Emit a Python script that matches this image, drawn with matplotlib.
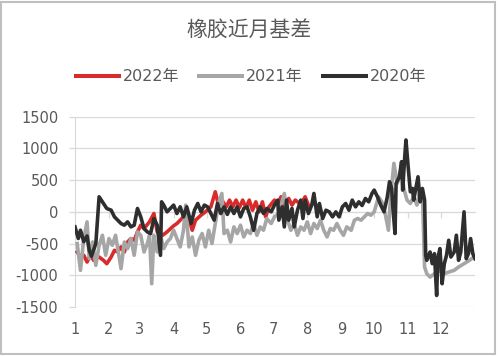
import matplotlib
matplotlib.use("Agg")
import matplotlib.pyplot as plt
from matplotlib.lines import Line2D
from matplotlib.patches import Rectangle

plt.rcParams['font.family'] = ['DejaVu Sans', 'Noto Sans CJK SC']
plt.rcParams['axes.unicode_minus'] = False

# 数据: 日序号(1月1日=0) 与 基差
day_2022 = [2, 5, 8, 11, 14, 17, 22, 26, 29, 33, 36, 39, 42, 45, 48, 51, 54, 57, 60, 63, 68,
            72, 75, 80, 84, 90, 93, 96, 99, 102, 107, 110, 115, 119, 124, 128, 131, 134, 138,
            141, 144, 147, 150, 153, 156, 159, 162, 165, 168, 171, 174, 177, 182, 185, 188,
            191, 195, 198, 201, 206, 210, 213]
val_2022 = [-633, -712, -685, -791, -685, -764, -712, -764, -817, -712, -606, -633, -553, -633,
            -475, -421, -448, -316, -210, -263, -158, -26, -316, -369, -316, -220, -184, -131,
            -79, 0, -290, -131, -53, 0, 79, 316, 106, 185, 79, 185, 79, 185, 66, 185, 66, 185,
            26, 158, 0, 158, -79, 79, 185, 120, 237, 100, 211, 106, 185, 120, 237, 106]

day_2021 = [2, 5, 8, 11, 13, 16, 19, 22, 25, 28, 31, 34, 37, 42, 45, 48, 51, 54, 57, 60, 63,
            66, 68, 70, 72, 75, 78, 81, 84, 87, 90, 93, 96, 99, 101, 104, 107, 110, 113, 116,
            119, 122, 125, 128, 131, 134, 136, 139, 142, 145, 148, 151, 154, 157, 160, 163,
            166, 169, 172, 175, 179, 182, 186, 191, 194, 197, 200, 203, 206, 209, 212, 215,
            218, 221, 224, 227, 230, 233, 236, 239, 242, 245, 248, 252, 255, 258, 261, 264,
            267, 270, 273, 277, 280, 283, 286, 288, 291, 294, 296, 298, 300, 303, 306, 309,
            312, 315, 317, 319, 321, 324, 328, 332, 337, 341, 346, 350, 355, 360, 364]
val_2021 = [-500, -922, -421, -158, -738, -475, -843, -527, -369, -685, -421, -527, -369, -896,
            -475, -580, -421, -685, -316, -369, -633, -500, -369, -1133, -369, -633, -369, -580,
            -475, -421, -290, -421, -553, -290, 106, -553, -395, -685, -448, -342, -553, -290,
            -500, -184, 132, 290, -342, -290, -475, -237, -342, -210, -395, -290, -342, -184,
            -369, -237, -290, -105, -184, -79, -26, 290, -131, -290, -184, -369, -237, -290,
            -158, -342, -184, -263, -131, -290, -395, -263, -290, -184, -290, -369, -237, -290,
            -131, -105, -131, -79, -26, -53, 0, 237, 158, -26, -290, 237, 765, 448, 553, 700,
            369, 185, 132, 237, 106, 343, 290, -870, -975, -1028, -975, -922, -975, -949, -922,
            -870, -817, -764, -712]

day_2020 = [0, 3, 5, 8, 11, 13, 15, 19, 22, 25, 29, 33, 36, 39, 42, 45, 48, 51, 54, 57, 60,
            63, 66, 69, 72, 75, 78, 79, 81, 84, 87, 90, 93, 96, 99, 102, 106, 109, 112, 115,
            118, 121, 124, 127, 130, 133, 136, 139, 142, 145, 148, 151, 154, 157, 160, 163,
            166, 169, 172, 175, 179, 182, 185, 186, 189, 191, 193, 195, 198, 200, 203, 206,
            208, 210, 213, 216, 218, 221, 223, 226, 229, 232, 235, 238, 241, 244, 247, 250,
            253, 256, 259, 262, 265, 268, 271, 273, 276, 279, 282, 285, 287, 289, 290, 292,
            293, 296, 298, 299, 301, 302, 304, 306, 308, 309, 311, 313, 315, 317, 319, 320,
            321, 324, 326, 328, 330, 331, 333, 335, 337, 339, 341, 343, 346, 348, 350, 352,
            355, 357, 359, 361, 363, 365]
val_2020 = [-237, -420, -290, -470, -380, -605, -700, -500, 237, 158, 53, 26, -79, -131, -184,
            -210, -158, -237, -210, 53, -79, -263, -316, -342, -105, -210, -685, 158, 106, 0,
            53, 106, -26, 79, -79, 79, -184, 26, 132, 0, 106, 79, -26, -131, 132, -26, 79, -40,
            79, -26, 79, -79, 53, 79, -79, -290, -26, 79, -26, 53, 0, 106, 185, -131, 79, -237,
            185, -131, 53, -237, 26, 185, -105, 185, -26, 106, 290, -79, 132, -105, 26, 0, -79,
            0, -79, 79, 132, 26, 185, 79, 158, 100, 211, 158, 290, 343, 237, 106, 0, 237, 475,
            369, 79, -342, 448, 553, 791, 343, 896, 1133, 712, 316, 369, 185, 369, 553, 158,
            369, 185, -685, -764, -633, -817, -659, -1318, -738, -579, -1133, -817, -685, -448,
            -712, -633, -369, -764, -633, 0, -738, -659, -421, -659, -738]

month_start = [0, 31, 59, 90, 120, 151, 181, 212, 243, 273, 304, 334]
month_labels = [str(m) for m in range(1, 13)]
y_ticks = [-1500, -1000, -500, 0, 500, 1000, 1500]

c2022 = '#d92b2b'
c2021 = '#a6a6a6'
c2020 = '#2e2e2e'
grid_c = '#d9d9d9'
text_c = '#595959'

fig = plt.figure(figsize=(4.98, 3.56), dpi=100, facecolor='white')
ax = fig.add_axes([75 / 498, 1 - 307 / 356, 400 / 498, 190.3 / 356])

ax.plot(day_2022, val_2022, color=c2022, lw=2.6, solid_joinstyle='round', zorder=3)
ax.plot(day_2021, val_2021, color=c2021, lw=2.6, solid_joinstyle='round', zorder=4)
ax.plot(day_2020, val_2020, color=c2020, lw=2.6, solid_joinstyle='round', zorder=5)

ax.set_xlim(0, 365)
ax.set_ylim(-1500, 1500)
ax.set_yticks(y_ticks)
ax.grid(axis='y', color=grid_c, lw=0.9, zorder=0)
ax.set_axisbelow(True)

for s in ['top', 'right']:
    ax.spines[s].set_visible(False)
ax.spines['left'].set_color(grid_c)
ax.spines['bottom'].set_color(grid_c)
ax.spines['bottom'].set_position(('data', 0))
ax.tick_params(axis='y', colors=grid_c, labelcolor=text_c, labelsize=10.5, length=4.5,
               width=0.9, pad=7.5)
ax.set_xticks(month_start)
ax.tick_params(axis='x', colors=grid_c, length=4, width=0.9, labelbottom=False)

# 月份标签放在底部
sec = ax.secondary_xaxis('bottom')
sec.set_xticks(month_start)
sec.set_xticklabels(month_labels)
sec.tick_params(length=0, labelsize=10.5, labelcolor=text_c, pad=11)
sec.spines['bottom'].set_visible(False)

fig.text(0.5, 1 - 31 / 356, '橡胶近月基差', ha='center', va='center', fontsize=15,
         color=text_c, family=['Noto Sans CJK SC', 'DejaVu Sans'])

handles = [Line2D([], [], color=c2022, lw=2.9),
           Line2D([], [], color=c2021, lw=2.9),
           Line2D([], [], color=c2020, lw=2.9)]
leg = fig.legend(handles, ['2022年', '2021年', '2020年'], loc='center',
                 bbox_to_anchor=(251 / 498, 1 - 77 / 356), ncol=3, frameon=False,
                 fontsize=11.5, handlelength=2.7, handletextpad=0.25, columnspacing=1.25)
for t in leg.get_texts():
    t.set_color(text_c)

# 图表外框
fig.patches.append(Rectangle((1 / 498, 2 / 356), 494 / 498, 352 / 356, transform=fig.transFigure,
                             fill=False, edgecolor='#bfbfbf', lw=1.5))

fig.savefig('out.png', dpi=100)
